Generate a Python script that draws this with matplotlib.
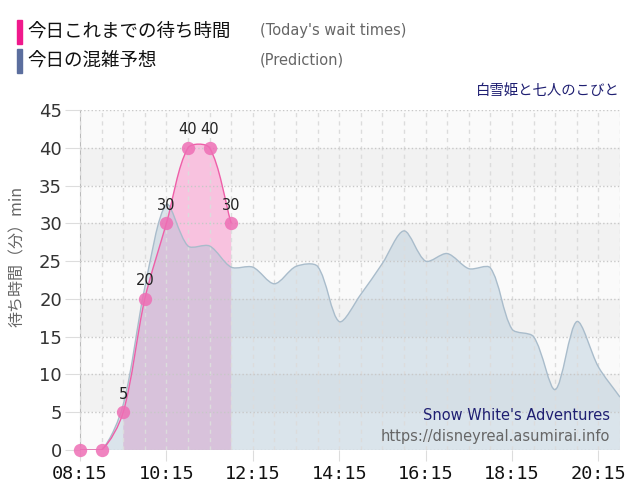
import matplotlib
matplotlib.use("Agg")
import matplotlib.pyplot as plt
from matplotlib.path import Path
from matplotlib.patches import PathPatch, Rectangle
import numpy as np

# ---- data ----
actual_times = ["08:15", "08:45", "09:15", "09:45", "10:15", "10:45", "11:15", "11:45"]
actual_wait = [0, 0, 5, 20, 30, 40, 40, 30]

pred_times = ["08:15", "08:45", "09:15", "09:45", "10:15", "10:45", "11:15", "11:45",
              "12:15", "12:45", "13:15", "13:45", "14:15", "14:45", "15:15", "15:45",
              "16:15", "16:45", "17:15", "17:45", "18:15", "18:45", "19:15", "19:45",
              "20:15", "20:45"]
pred_wait = [0, 0, 6, 21.5, 32.5, 27, 27, 24.2,
             24.2, 22, 24.3, 24.3, 17, 20.6, 24.7, 29,
             25, 26, 24, 24.1, 16, 15, 8, 17,
             11, 7]

tick_labels = ["08:15", "10:15", "12:15", "14:15", "16:15", "18:15", "20:15"]

title_actual = "今日これまでの待ち時間"
title_actual_en = "(Today's wait times)"
title_pred = "今日の混雑予想"
title_pred_en = "(Prediction)"
attraction_jp = "白雪姫と七人のこびと"
attraction_en = "Snow White's Adventures"
site_url = "https://disneyreal.asumirai.info"
ylabel = "待ち時間（分）min"

CJK = ["Noto Sans CJK JP", "DejaVu Sans"]


def to_min(label):
    h, m = label.split(":")
    return int(h) * 60 + int(m) - (8 * 60 + 15)


XMAX = to_min("20:45")
YMAX = 45
# pixel scale of the plot area (used for the spline tension like the web chart)
SX = 540 / XMAX
SY = 340 / YMAX
TENSION = 0.3


def controls(xs, ys, t=TENSION):
    px = np.asarray(xs, float) * SX
    py = np.asarray(ys, float) * SY
    n = len(px)
    prev_c, next_c = [], []
    for i in range(n):
        a = max(i - 1, 0)
        b = min(i + 1, n - 1)
        d01 = np.hypot(px[i] - px[a], py[i] - py[a])
        d12 = np.hypot(px[b] - px[i], py[b] - py[i])
        tot = d01 + d12
        s01 = d01 / tot if tot else 0
        s12 = d12 / tot if tot else 0
        dx, dy = px[b] - px[a], py[b] - py[a]
        cp = [px[i] - t * s01 * dx, py[i] - t * s01 * dy]
        cn = [px[i] + t * s12 * dx, py[i] + t * s12 * dy]
        for c in (cp, cn):
            c[0] = min(max(c[0], 0), XMAX * SX)
            c[1] = min(max(c[1], 0), YMAX * SY)
        prev_c.append((cp[0] / SX, cp[1] / SY))
        next_c.append((cn[0] / SX, cn[1] / SY))
    return prev_c, next_c


def spline(xs, ys, start=0, close=False):
    prev_c, next_c = controls(xs, ys)
    verts = [(xs[start], ys[start])]
    codes = [Path.MOVETO]
    for i in range(start, len(xs) - 1):
        verts += [next_c[i], prev_c[i + 1], (xs[i + 1], ys[i + 1])]
        codes += [Path.CURVE4] * 3
    if close:
        verts += [(xs[-1], 0), (xs[start], 0), (xs[start], ys[start])]
        codes += [Path.LINETO, Path.LINETO, Path.CLOSEPOLY]
    return Path(verts, codes)


ax_x = [to_min(t) for t in actual_times]
px_x = [to_min(t) for t in pred_times]

fig = plt.figure(figsize=(6.4, 5.0), dpi=100)
ax = fig.add_axes([80 / 640, 1 - 450 / 500, 540 / 640, 340 / 500])
ax.set_facecolor("#fafafa")
for lo in range(5, YMAX, 10):
    ax.axhspan(lo, lo + 5, color="#f2f2f2", lw=0, zorder=0)

# prediction area
ax.add_patch(PathPatch(spline(px_x, pred_wait, close=True), facecolor="#aac3d5",
                       alpha=0.4, edgecolor="none", zorder=1.2))
# actual area (starts at 09:15)
ax.add_patch(PathPatch(spline(ax_x, actual_wait, start=2, close=True),
                       facecolor="#f8c2df", edgecolor="none", zorder=1.1))
ax.add_patch(PathPatch(spline(px_x, pred_wait), facecolor="none",
                       edgecolor="#a9bccb", lw=1, zorder=3))
ax.add_patch(PathPatch(spline(ax_x, actual_wait), facecolor="none",
                       edgecolor="#ee5fa8", lw=1, zorder=3.2))
ax.plot(ax_x, actual_wait, "o", ms=9.6, color="#ee6fb5", alpha=0.85, mew=0,
        zorder=4, clip_on=False)
for x, y in zip(ax_x, actual_wait):
    if y > 0:
        ax.annotate(str(y), (x, y), xytext=(0, 13), textcoords="offset points",
                    ha="center", va="center", fontsize=10.5, color="#222222", zorder=5)

ax.set_xlim(0, XMAX)
ax.set_ylim(0, YMAX)
ax.set_xticks([to_min(t) for t in tick_labels], tick_labels)
ax.set_xticks(np.arange(0, XMAX + 1, 30), minor=True)
ax.set_yticks(np.arange(0, YMAX + 1, 5))
ax.set_axisbelow(False)
ax.grid(axis="y", ls=":", color="#c8c8c8", lw=1, zorder=2)
ax.grid(axis="x", which="both", ls=(0, (3, 3)), color="#dcdcdc", lw=1, zorder=2)

ax.tick_params(axis="x", which="major", length=8, color="#dddddd", pad=3,
               labelsize=13.3, labelcolor="#111111")
ax.tick_params(axis="x", which="minor", length=0)
ax.tick_params(axis="y", length=11, color="#dddddd", pad=2,
               labelsize=13, labelcolor="#333333")
for lab in ax.get_xticklabels():
    lab.set_family("DejaVu Sans Mono")
for side in ["top", "right", "bottom"]:
    ax.spines[side].set_visible(False)
ax.spines["left"].set_color("#bbbbbb")

fig.text(17 / 640, 1 - 256 / 500, ylabel, rotation=90, ha="center", va="center",
         fontsize=11.5, color="#666666", family=CJK)

# legend
fig.patches.append(Rectangle((17 / 640, 1 - 44 / 500), 5 / 640, 24 / 500,
                             transform=fig.transFigure, color="#f0198c"))
fig.patches.append(Rectangle((17 / 640, 1 - 73 / 500), 5 / 640, 24 / 500,
                             transform=fig.transFigure, color="#5b6e9e"))
fig.text(27 / 640, 1 - 32 / 500, title_actual, ha="left", va="center",
         fontsize=13.3, color="#111111", family=CJK)
fig.text(27 / 640, 1 - 61 / 500, title_pred, ha="left", va="center",
         fontsize=13.3, color="#111111", family=CJK)
fig.text(260 / 640, 1 - 31 / 500, title_actual_en, ha="left", va="center",
         fontsize=10.5, color="#666666")
fig.text(260 / 640, 1 - 60 / 500, title_pred_en, ha="left", va="center",
         fontsize=10.5, color="#666666")
fig.text(620 / 640, 1 - 91 / 500, attraction_jp, ha="right", va="center",
         fontsize=10.4, color="#1f1f72", family=CJK)
fig.text(610 / 640, 1 - 415 / 500, attraction_en, ha="right", va="center",
         fontsize=10.5, color="#1f1f72")
fig.text(610 / 640, 1 - 436 / 500, site_url, ha="right", va="center",
         fontsize=10.5, color="#666666")

fig.savefig("out.png", dpi=100)
